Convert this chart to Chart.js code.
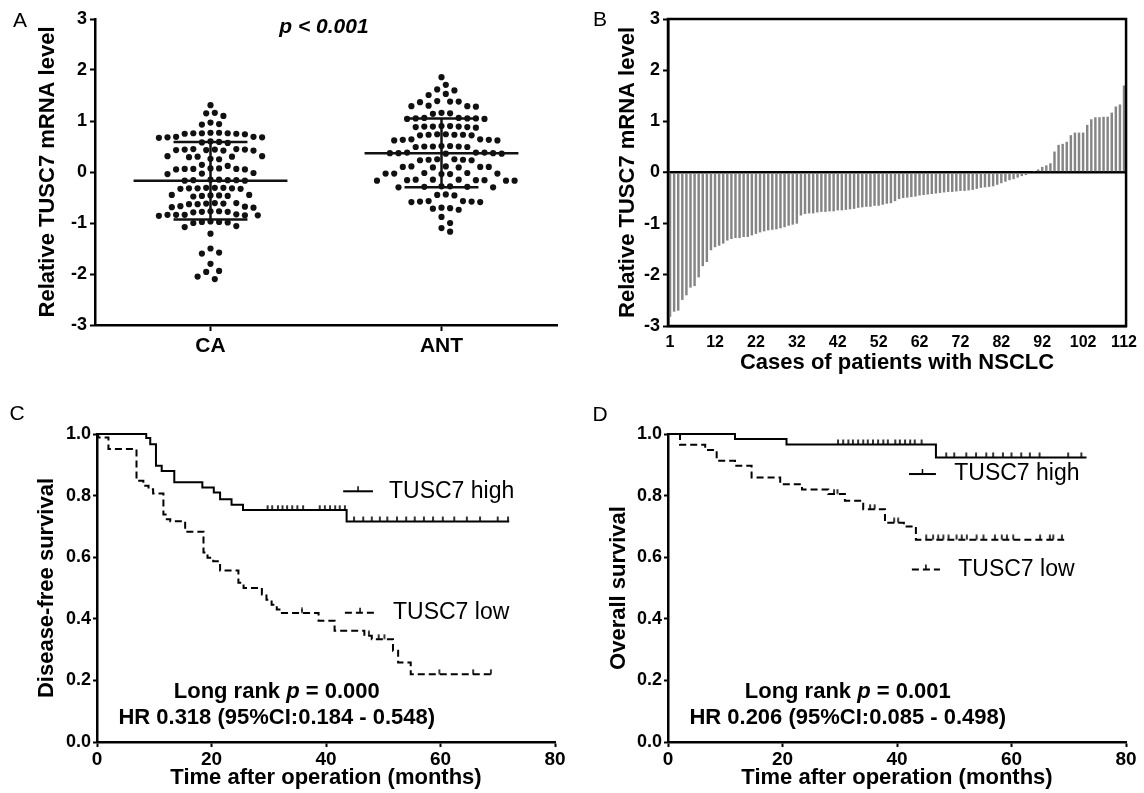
<!DOCTYPE html>
<html>
<head>
<meta charset="utf-8">
<script src="https://cdn.jsdelivr.net/npm/chart.js@4.4.1/dist/chart.umd.min.js"></script>
<style>
html, body { margin: 0; padding: 0; background: #fff; }
#wrap { position: relative; width: 1144px; height: 793px; }
canvas { position: absolute; }
</style>
</head>
<body>
<div id="wrap">
  <canvas id="cA" width="570" height="395" style="left:0;top:0"></canvas>
  <canvas id="cB" width="574" height="395" style="left:570px;top:0"></canvas>
  <canvas id="cC" width="570" height="398" style="left:0;top:395px"></canvas>
  <canvas id="cD" width="574" height="398" style="left:570px;top:395px"></canvas>
</div>
<script>
// ---- panel A: scatter dot plot ----
const groups = ['CA', 'ANT'];
const caValues = [1.31, 1.16, 1.15, 1.10, 0.97, 0.93, 0.94,
  0.77, 0.76, 0.75, 0.76, 0.74, 0.77, 0.75, 0.76,
  0.69, 0.68, 0.67, 0.68, 0.69, 0.60, 0.58, 0.57, 0.59,
  0.45, 0.44, 0.43, 0.44, 0.42, 0.45, 0.43, 0.44, 0.42,
  0.31, 0.30, 0.29, 0.30, 0.31, 0.26, 0.25, 0.14, 0.12,
  0.07, 0.06, 0.05, 0.06, 0.07, 0.05, 0.06, -0.02, -0.03, -0.04,
  -0.15, -0.16, -0.17, -0.16, -0.15, -0.17, -0.16,
  -0.31, -0.32, -0.33, -0.32, -0.31, -0.33, -0.32, -0.31,
  -0.45, -0.46, -0.47, -0.46, -0.45, -0.47, -0.48,
  -0.61, -0.62, -0.63, -0.62, -0.61, -0.63, -0.68, -0.69, -0.67, -0.70,
  -0.77, -0.78, -0.79, -0.78, -0.77, -0.84, -0.85, -0.83, -0.84, -0.86, -0.84, -0.85,
  -0.97, -0.98, -0.99, -1.00, -0.98, -1.06, -1.08, -1.21,
  -1.50, -1.58, -1.60, -1.80, -1.94, -1.96, -2.05, -2.10];
const antValues = [1.86, 1.71, 1.62, 1.60, 1.53, 1.51, 1.39, 1.38, 1.37, 1.38,
  1.30, 1.29, 1.28, 1.29, 1.16, 1.15, 1.14,
  1.06, 1.05, 1.04, 1.05, 1.06, 1.04, 1.05,
  0.90, 0.89, 0.88, 0.89, 0.90, 0.88, 0.89, 0.87,
  0.74, 0.73, 0.72, 0.73, 0.74, 0.72, 0.73, 0.64, 0.63, 0.62, 0.63, 0.64, 0.62,
  0.51, 0.50, 0.49, 0.50, 0.51, 0.49, 0.50,
  0.38, 0.37, 0.36, 0.37, 0.38, 0.36, 0.37, 0.38,
  0.25, 0.24, 0.23, 0.24, 0.25, 0.23,
  0.11, 0.10, 0.09, 0.10, 0.11, 0.09, 0.10,
  -0.02, -0.03, -0.04, -0.03, -0.02, -0.04, -0.03,
  -0.15, -0.16, -0.17, -0.16, -0.15, -0.17, -0.16, -0.15, -0.17,
  -0.28, -0.29, -0.30, -0.29, -0.28, -0.30, -0.44, -0.45, -0.46,
  -0.57, -0.58, -0.59, -0.58, -0.57, -0.59, -0.70, -0.71, -0.72, -0.74,
  -0.88, -1.00, -1.10, -1.17];
const groupMeans = [-0.17, 0.37];
const groupSdLow = [-0.93, -0.30];
const groupSdHigh = [0.59, 1.05];

// ---- panel B: waterfall of 112 cases ----
const caseTicks = ['1', '12', '22', '32', '42', '52', '62', '72', '82', '92', '102', '112'];
const caseValues = [-2.82, -2.72, -2.70, -2.49, -2.40, -2.25, -2.22, -2.05, -1.83, -1.75,
  -1.52, -1.46, -1.43, -1.39, -1.33, -1.30, -1.28, -1.28, -1.26, -1.26,
  -1.23, -1.20, -1.17, -1.15, -1.13, -1.12, -1.11, -1.09, -1.07, -1.04,
  -1.02, -1.00, -0.84, -0.81, -0.80, -0.80, -0.78, -0.77, -0.77, -0.76,
  -0.76, -0.74, -0.74, -0.73, -0.72, -0.71, -0.69, -0.68, -0.67, -0.67,
  -0.65, -0.65, -0.63, -0.61, -0.60, -0.56, -0.52, -0.50, -0.49, -0.48,
  -0.47, -0.45, -0.44, -0.43, -0.42, -0.41, -0.40, -0.39, -0.38, -0.38,
  -0.37, -0.36, -0.36, -0.35, -0.34, -0.32, -0.30, -0.29, -0.28, -0.27,
  -0.24, -0.21, -0.18, -0.15, -0.13, -0.10, -0.07, -0.05, -0.02, 0.03,
  0.06, 0.11, 0.14, 0.18, 0.41, 0.54, 0.56, 0.60, 0.73, 0.78,
  0.78, 0.78, 0.93, 1.04, 1.08, 1.08, 1.09, 1.09, 1.17, 1.29,
  1.33, 1.70];

// ---- panel C: disease-free survival ----
const dfsHighTime = [0, 8.6, 9.3, 10.3, 11.3, 13.5, 18.4, 20.4, 21.5, 23.5, 25.5, 43.6, 72.0];
const dfsHighSurv = [1.0, 0.987, 0.967, 0.897, 0.88, 0.843, 0.826, 0.81, 0.788, 0.77, 0.753, 0.716, 0.716];
const dfsHighCensor = [29.8, 30.6, 31.6, 32.4, 33.2, 34.1, 35.0, 36.0, 38.9, 39.8, 40.7, 41.6, 42.4, 43.3,
  44.9, 46.5, 48.0, 49.4, 50.7, 52.4, 54.0, 55.5, 57.1, 58.7, 60.4, 62.4, 64.6, 66.9, 70.0, 71.8];
const dfsLowTime = [0, 0.2, 2.0, 6.9, 8.1, 9.0, 9.8, 11.6, 12.2, 12.8, 15.4, 18.6, 19.3, 20.3, 21.5,
  24.7, 25.6, 28.8, 29.6, 30.5, 31.4, 32.3, 38.7, 41.5, 46.7, 48.0, 51.7, 52.6, 54.8, 69.1];
const dfsLowSurv = [1.0, 0.989, 0.951, 0.848, 0.832, 0.821, 0.807, 0.739, 0.723, 0.717, 0.683, 0.615, 0.598, 0.587, 0.557,
  0.517, 0.50, 0.479, 0.462, 0.446, 0.43, 0.419, 0.394, 0.361, 0.345, 0.334, 0.296, 0.258, 0.22, 0.22];
const dfsLowCensor = [35.8, 47.5, 49.2, 50.2, 59.8, 65.7, 68.8];

// ---- panel D: overall survival ----
const osHighTime = [0, 11.7, 20.7, 46.8, 73.1];
const osHighSurv = [1.0, 0.984, 0.966, 0.924, 0.924];
const osHighCensor = [29.7, 30.6, 31.5, 32.3, 33.2, 34.1, 34.9, 35.8, 36.7, 37.6, 38.4, 39.7, 40.5, 41.4, 42.3, 43.1, 44.3,
  48.6, 50.0, 52.1, 53.8, 55.6, 56.8, 58.5, 60.0, 61.7, 63.2, 64.9, 69.9, 72.2];
const osLowTime = [0, 2.1, 6.5, 8.5, 11.7, 14.6, 19.6, 23.4, 28.0, 30.9, 34.1, 37.9, 41.2, 43.3, 69.2];
const osLowSurv = [1.0, 0.965, 0.948, 0.913, 0.897, 0.859, 0.837, 0.82, 0.805, 0.783, 0.756, 0.712, 0.70, 0.657, 0.657];
const osLowCensor = [29.0, 29.6, 35.3, 36.1, 39.5, 40.2, 45.1, 46.3, 47.2, 48.1, 49.0, 50.4, 51.3, 52.2, 53.9,
  55.1, 57.1, 58.3, 59.2, 60.3, 65.0, 66.7, 67.3, 68.8];

const FONT = "'Liberation Sans', Arial, Helvetica, sans-serif";
Chart.defaults.font.family = FONT;
Chart.defaults.color = '#000';
Chart.defaults.animation = false;
Chart.defaults.responsive = false;
Chart.defaults.plugins.legend.display = false;
Chart.defaults.plugins.tooltip.enabled = false;

function fixWidth(w) { return function (s) { s.width = w; }; }
function fixHeight(h) { return function (s) { s.height = h; }; }

// text / key drawing; items with data:true are placed through the chart scales
function textLayer(items, keys) {
  return {
    id: 'textLayer',
    afterDraw(chart) {
      const ctx = chart.ctx;
      const sx = chart.scales.x, sy = chart.scales.y;
      ctx.save();
      ctx.fillStyle = '#000';
      ctx.strokeStyle = '#000';
      ctx.textBaseline = 'middle';
      (keys || []).forEach(function (k) {
        const x1 = sx.getPixelForValue(k.from), x2 = sx.getPixelForValue(k.to), y = sy.getPixelForValue(k.y);
        ctx.lineWidth = 2;
        ctx.setLineDash(k.dash || []);
        ctx.beginPath(); ctx.moveTo(x1, y); ctx.lineTo(x2, y); ctx.stroke();
        ctx.setLineDash([]);
        ctx.lineWidth = 1.5;
        ctx.beginPath(); ctx.moveTo((x1 + x2) / 2, y); ctx.lineTo((x1 + x2) / 2, y - 5); ctx.stroke();
      });
      items.forEach(function (it) {
        const x = it.data ? sx.getPixelForValue(it.x) : it.x;
        const y = it.data ? sy.getPixelForValue(it.y) : it.y;
        const runs = it.runs || [{ text: it.text, font: it.font }];
        const widths = runs.map(function (r) { ctx.font = r.font; return ctx.measureText(r.text).width; });
        const total = widths.reduce(function (a, b) { return a + b; }, 0);
        let cx = it.align === 'left' ? x : x - total / 2;
        ctx.textAlign = 'left';
        runs.forEach(function (r, i) { ctx.font = r.font; ctx.fillText(r.text, cx, y); cx += widths[i]; });
      });
      ctx.restore();
    }
  };
}

// simple bee-swarm layout for the dot plot
function swarm(values, center, pxPerX, pxPerY) {
  const placed = [];
  const out = [];
  values.slice().sort(function (a, b) { return b - a; }).forEach(function (v) {
    const py = v * pxPerY;
    let k = 0, px = 0;
    while (true) {
      const cands = k === 0 ? [0] : [k * 4.3, -k * 4.3];
      const hit = cands.find(function (c) {
        return placed.every(function (p) { return (p.x - c) * (p.x - c) + (p.y - py) * (p.y - py) >= 8.4 * 8.4; });
      });
      if (hit !== undefined) { px = hit; break; }
      k++;
    }
    placed.push({ x: px, y: py });
    out.push({ x: center + px / pxPerX, y: v });
  });
  return out;
}

// ================= A =================
const dotSets = [caValues, antValues].map(function (vals, i) {
  return {
    type: 'scatter',
    data: swarm(vals, i + 0.5, 231, 51),
    pointRadius: 3.1,
    backgroundColor: '#111',
    borderWidth: 0,
    order: 1
  };
});
const lineSets = [];
groups.forEach(function (g, i) {
  const c = i + 0.5;
  [[c - 0.333, c + 0.333, groupMeans[i], groupMeans[i]],
   [c - 0.16, c + 0.16, groupSdHigh[i], groupSdHigh[i]],
   [c - 0.16, c + 0.16, groupSdLow[i], groupSdLow[i]],
   [c, c, groupSdLow[i], groupSdHigh[i]]].forEach(function (s) {
    lineSets.push({
      type: 'line',
      data: [{ x: s[0], y: s[2] }, { x: s[1], y: s[3] }],
      borderColor: '#111',
      borderWidth: 2.5,
      pointRadius: 0,
      order: 0
    });
  });
});

new Chart(document.getElementById('cA'), {
  type: 'scatter',
  data: { datasets: lineSets.concat(dotSets) },
  options: {
    layout: { padding: { left: 31, right: 13, top: 19, bottom: 30 } },
    scales: {
      x: {
        type: 'linear', min: 0, max: 2,
        afterBuildTicks: function (s) { s.ticks = [{ value: 0.5 }, { value: 1.5 }]; },
        afterFit: fixHeight(40),
        ticks: {
          callback: function (v, i) { return groups[i]; },
          font: { size: 21, weight: 'bold' }, padding: 3, maxRotation: 0
        },
        grid: { drawOnChartArea: false, tickLength: 6, tickColor: '#000', tickWidth: 2 },
        border: { color: '#000', width: 2.5 }
      },
      y: {
        min: -3, max: 3,
        afterFit: fixWidth(64),
        ticks: { stepSize: 1, font: { size: 18, weight: 'bold' }, padding: 3 },
        grid: { drawOnChartArea: false, tickLength: 5, tickColor: '#000', tickWidth: 2 },
        border: { color: '#000', width: 2.5 },
        title: { display: true, text: 'Relative TUSC7 mRNA level', font: { size: 22, weight: 'bold' }, padding: { top: 4, bottom: 4 } }
      }
    }
  },
  plugins: [textLayer([
    { x: 20, y: 21, text: 'A', font: '21px ' + FONT },
    { x: 324, y: 27, text: 'p < 0.001', font: 'italic bold 21px ' + FONT }
  ])]
});

// ================= B =================
const caseLabels = caseValues.map(function (v, i) { return String(i + 1); });
const frame = {
  id: 'frame',
  afterDraw(chart) {
    const a = chart.chartArea, ctx = chart.ctx;
    ctx.save();
    ctx.strokeStyle = '#000';
    ctx.lineWidth = 2.5;
    ctx.strokeRect(a.left, a.top, a.right - a.left, a.bottom - a.top);
    ctx.restore();
  }
};
new Chart(document.getElementById('cB'), {
  type: 'bar',
  data: {
    labels: caseLabels,
    datasets: [{
      data: caseValues,
      backgroundColor: '#858585',
      barPercentage: 0.6,
      categoryPercentage: 1.0
    }]
  },
  options: {
    layout: { padding: { left: 41, right: 17, top: 19, bottom: 15 } },
    scales: {
      x: {
        afterFit: fixHeight(54),
        grid: { display: false, drawTicks: false, tickLength: 0 },
        border: { color: '#000', width: 2.5 },
        ticks: {
          autoSkip: false, maxRotation: 0, padding: 7,
          font: { size: 16, weight: 'bold' },
          callback: function (v) {
            const lab = this.getLabelForValue(v);
            return caseTicks.indexOf(lab) >= 0 ? lab : '';
          }
        },
        title: { display: true, text: 'Cases of patients with NSCLC', font: { size: 22, weight: 'bold' }, padding: { top: 0, bottom: 4 } }
      },
      y: {
        min: -3, max: 3, z: 1,
        afterFit: fixWidth(57),
        ticks: { stepSize: 1, font: { size: 18, weight: 'bold' }, padding: 3 },
        grid: {
          color: function (c) { return c.tick && c.tick.value === 0 ? '#000' : 'rgba(0,0,0,0)'; },
          lineWidth: function (c) { return c.tick && c.tick.value === 0 ? 2.5 : 1; },
          tickLength: 5, tickColor: '#000', tickWidth: 2
        },
        border: { color: '#000', width: 2.5 },
        title: { display: true, text: 'Relative TUSC7 mRNA level', font: { size: 22, weight: 'bold' }, padding: { top: 4, bottom: 4 } }
      }
    }
  },
  plugins: [frame, textLayer([{ x: 30, y: 20, text: 'B', font: '21px ' + FONT }])]
});

// ================= C & D =================
const tickImg = document.createElement('canvas');
tickImg.width = 4;
tickImg.height = 11;
(function () {
  const t = tickImg.getContext('2d');
  t.strokeStyle = '#000';
  t.lineWidth = 1.6;
  t.beginPath(); t.moveTo(2, 0.5); t.lineTo(2, 5.5); t.stroke();
})();

function survAt(times, surv, t) {
  let s = surv[0];
  times.forEach(function (tt, i) { if (tt <= t) s = surv[i]; });
  return s;
}

function kmSets(time, surv, censor, dash) {
  return [{
    type: 'line',
    data: time.map(function (t, i) { return { x: t, y: surv[i] }; }),
    stepped: true,
    borderColor: '#000',
    borderWidth: 2,
    borderDash: dash,
    pointRadius: 0,
    fill: false,
    clip: 8
  }, {
    type: 'scatter',
    data: censor.map(function (t) { return { x: t, y: survAt(time, surv, t) }; }),
    pointStyle: tickImg,
    pointRadius: 3,
    clip: 8
  }];
}

function kmChart(id, sets, yTitle, pText, hrText, letter, pad, yWidth, keys) {
  const bold = 'bold 22px ' + FONT;
  new Chart(document.getElementById(id), {
    type: 'scatter',
    data: { datasets: sets },
    options: {
      layout: { padding: pad },
      scales: {
        x: {
          type: 'linear', min: 0, max: 80,
          afterFit: fixHeight(51),
          ticks: { stepSize: 20, font: { size: 19, weight: 'bold' }, padding: 1, maxRotation: 0 },
          grid: { drawOnChartArea: false, tickLength: 5, tickColor: '#000', tickWidth: 2 },
          border: { color: '#000', width: 2.5 },
          title: { display: true, text: 'Time after operation (months)', font: { size: 22, weight: 'bold' }, padding: { top: 0, bottom: 2 } }
        },
        y: {
          min: 0, max: 1,
          afterFit: fixWidth(yWidth),
          ticks: { stepSize: 0.2, font: { size: 18, weight: 'bold' }, padding: 2, callback: function (v) { return v.toFixed(1); } },
          grid: { drawOnChartArea: false, tickLength: 4, tickColor: '#000', tickWidth: 2 },
          border: { color: '#000', width: 2.5 },
          title: { display: true, text: yTitle, font: { size: 22, weight: 'bold' }, padding: { top: 4, bottom: 4 } }
        }
      }
    },
    plugins: [textLayer([
      { x: letter[0], y: letter[1], text: letter[2], font: '21px ' + FONT },
      { data: true, x: 31.4, y: 0.163, runs: [
        { text: 'Long rank ', font: bold },
        { text: 'p', font: 'italic bold 22px ' + FONT },
        { text: ' = ' + pText, font: bold }] },
      { data: true, x: 31.4, y: 0.078, text: hrText, font: bold },
      { data: true, align: 'left', x: keys[0].textX, y: keys[0].y, text: 'TUSC7 high', font: '23px ' + FONT },
      { data: true, align: 'left', x: keys[1].textX, y: keys[1].y, text: 'TUSC7 low', font: '23px ' + FONT }
    ], keys)]
  });
}

kmChart('cC',
  kmSets(dfsHighTime, dfsHighSurv, dfsHighCensor, []).concat(kmSets(dfsLowTime, dfsLowSurv, dfsLowCensor, [7, 4])),
  'Disease-free survival', '0.000', 'HR 0.318 (95%CI:0.184 - 0.548)', [17, 19, 'C'],
  { left: 30, right: 15, top: 39, bottom: 0 }, 67,
  [{ from: 43.0, to: 48.2, y: 0.814, textX: 51.0 },
   { from: 43.3, to: 48.6, y: 0.42, textX: 51.7, dash: [7, 4] }]);

kmChart('cD',
  kmSets(osHighTime, osHighSurv, osHighCensor, []).concat(kmSets(osLowTime, osLowSurv, osLowCensor, [7, 4])),
  'Overall survival', '0.001', 'HR 0.206 (95%CI:0.085 - 0.498)', [30, 20, 'D'],
  { left: 32, right: 18, top: 39, bottom: 0 }, 66,
  [{ from: 42.1, to: 46.8, y: 0.87, textX: 50.0 },
   { from: 42.6, to: 47.5, y: 0.56, textX: 50.7, dash: [7, 4] }]);
</script>
</body>
</html>
